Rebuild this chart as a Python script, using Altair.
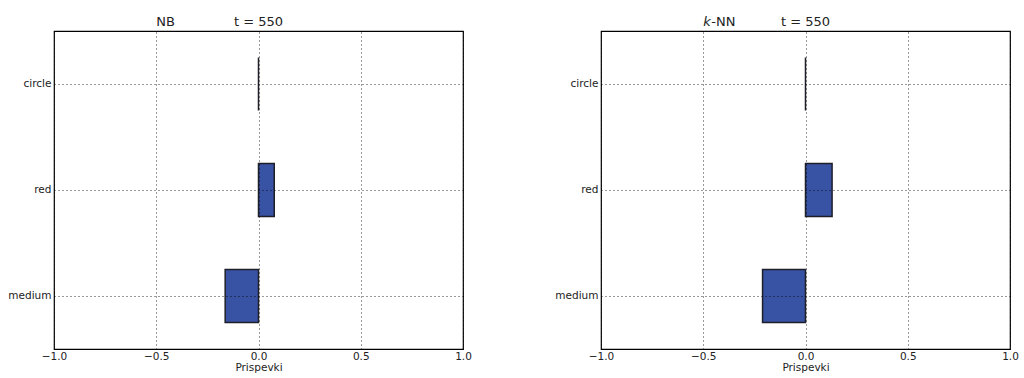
import altair as alt
import pandas as pd

# Feature contributions for one instance (t = 550) under two classifiers
features = ["circle", "red", "medium"]
nb_values = [0.0, 0.077, -0.163]
knn_values = [0.0, 0.13, -0.21]
x_ticks = [-1.0, -0.5, 0.0, 0.5, 1.0]

FONT = "DejaVu Sans"
BAR_FILL = "#3953A4"
BAR_EDGE = "#1f1f2a"
INK = "#222222"


def grid_axis_common():
    return dict(
        grid=True,
        gridColor="black",
        gridDash=[1, 3],
        gridWidth=1,
        gridOpacity=0.8,
        tickSize=0,
        domain=False,
        zindex=1,
    )


def heading(label, pos, **style):
    df = pd.DataFrame({"label": [label], "pos": [pos]})
    return (
        alt.Chart(df)
        .mark_text(font=FONT, fontSize=13, baseline="alphabetic", color=INK, **style)
        .encode(x=alt.X("pos:Q"), y=alt.value(-5), text="label:N")
    )


def panel(model_name, values, italic_prefix=None):
    df = pd.DataFrame({"feature": features, "value": values})

    x = alt.X(
        "value:Q",
        title="Prispevki",
        scale=alt.Scale(domain=[-1, 1], nice=False, zero=False),
        axis=alt.Axis(
            values=x_ticks,
            format=".1f",
            labelPadding=2,
            labelFlush=False,
            labelOverlap=False,
            labelFontSize=10.5,
            titleFontSize=10.5,
            titlePadding=1,
            titleFontWeight="normal",
            labelColor=INK,
            titleColor=INK,
            **grid_axis_common(),
        ),
    )
    y = alt.Y(
        "feature:N",
        title=None,
        sort=features,
        scale=alt.Scale(paddingInner=0.5, paddingOuter=0.25),
        axis=alt.Axis(
            bandPosition=0.5,
            labelPadding=3,
            labelFontSize=10.5,
            labelColor=INK,
            minExtent=50,
            maxExtent=50,
            **grid_axis_common(),
        ),
    )

    bars = (
        alt.Chart(df)
        .mark_bar(fill=BAR_FILL, stroke=BAR_EDGE, strokeWidth=1.5)
        .encode(x=x, y=y, x2=alt.datum(0))
    )

    layers = [bars, heading("t = 550", 0.0, align="center")]
    if italic_prefix:
        layers.append(heading(italic_prefix, -0.5, align="left", fontStyle="italic"))
        layers.append(heading(model_name, -0.5, align="left", dx=8))
    else:
        layers.append(heading(model_name, -0.5, align="left"))

    return alt.layer(*layers).properties(width=409, height=318)


left = panel("NB", nb_values)
right = panel("-NN", knn_values, italic_prefix="k")

chart = (
    alt.hconcat(left, right, spacing=78)
    .properties(padding={"left": 3, "top": 15, "right": 0, "bottom": 0})
    .configure(font=FONT)
    .configure_view(stroke="black", strokeWidth=1.2)
    .configure_axis(labelFont=FONT, titleFont=FONT)
)

chart.save("out.html", embed_options={"renderer": "svg", "actions": False})
